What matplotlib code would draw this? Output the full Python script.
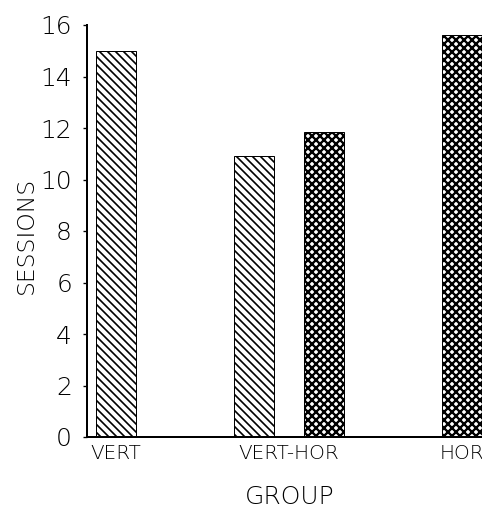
import matplotlib

matplotlib.use("Agg")
import matplotlib.pyplot as plt
import numpy as np

groups = ["VERT", "VERT-HOR", "HOR"]
vert_sessions = [15.0, 10.9, np.nan]
hor_sessions = [np.nan, 11.85, 15.6]

plt.rcParams["font.family"] = ["DejaVu Sans"]
plt.rcParams["font.weight"] = "light"
plt.rcParams["axes.labelweight"] = "light"

DPI = 120
fig = plt.figure(figsize=(482 / DPI, 508 / DPI), dpi=DPI)
ax = fig.add_axes([87 / 482, 71 / 508, 395 / 482, 412 / 508])

width = 0.231
offset = 0.2
series = [(vert_sessions, "\\" * 5, 1.0), (hor_sessions, "x" * 5, 1.4)]
for i in range(len(groups)):
    present = [k for k, (vals, _, _) in enumerate(series) if not np.isnan(vals[i])]
    for j, k in enumerate(present):
        vals, hatch, hlw = series[k]
        shift = 0.0 if len(present) == 1 else (-offset if j == 0 else offset)
        bars = ax.bar(i + shift, vals[i], width=width, color="white",
                      edgecolor="black", linewidth=0.6, hatch=hatch)
        for b in bars:
            if hasattr(b, "set_hatch_linewidth"):
                b.set_hatch_linewidth(hlw)

ax.set_xlim(-0.168, 2.116)
ax.set_ylim(0, 16)
ax.set_yticks(range(0, 17, 2))
ax.set_xticks(range(len(groups)))
ax.set_xticklabels(groups, fontsize=12)
ax.tick_params(axis="x", length=0, pad=4)
ax.tick_params(axis="y", length=2.5, width=0.8, direction="out", pad=6.5,
               labelsize=15)

for s in ("top", "right"):
    ax.spines[s].set_visible(False)
ax.spines["left"].set_linewidth(1.2)
ax.spines["bottom"].set_linewidth(1.2)

ax.set_ylabel("SESSIONS", fontsize=14, va="center")
ax.set_xlabel("GROUP", fontsize=15, va="center")
ax.yaxis.set_label_coords(-0.154, 0.49)
ax.xaxis.set_label_coords(0.514, -0.145)

fig.savefig("out.png", dpi=DPI)
